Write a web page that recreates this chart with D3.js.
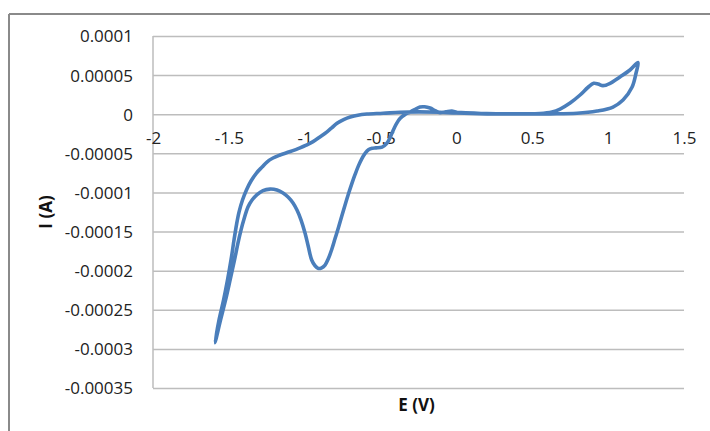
<!DOCTYPE html>
<html>
<head>
<meta charset="utf-8">
<script src="https://cdn.jsdelivr.net/npm/d3@7"></script>
<style>
  html, body { margin: 0; padding: 0; background: #ffffff; }
  svg { display: block; }
</style>
</head>
<body>
<script>
// ---- Data ----
const xTickValues = [-2, -1.5, -1, -0.5, 0, 0.5, 1, 1.5];
const xTickLabels = ["-2", "-1.5", "-1", "-0.5", "0", "0.5", "1", "1.5"];
const yTickValues = [0.0001, 0.00005, 0, -0.00005, -0.0001, -0.00015, -0.0002, -0.00025, -0.0003, -0.00035];
const yTickLabels = ["0.0001", "0.00005", "0", "-0.00005", "-0.0001", "-0.00015", "-0.0002", "-0.00025", "-0.0003", "-0.00035"];
const xTitle = "E (V)";
const yTitle = "I (A)";

// Potential (V)
const potential = [
  0.0, -0.03, -0.07, -0.108, -0.14, -0.174, -0.21, -0.24, -0.275, -0.306,
  -0.34, -0.372, -0.395, -0.418, -0.44, -0.46, -0.49, -0.53, -0.555, -0.58,
  -0.602, -0.624, -0.646, -0.668, -0.69, -0.712, -0.734, -0.756, -0.778, -0.80,
  -0.822, -0.844, -0.866, -0.888, -0.91, -0.932, -0.954, -0.976, -0.998, -1.024,
  -1.051, -1.077, -1.11, -1.143, -1.183, -1.229, -1.275, -1.314, -1.347, -1.374,
  -1.40, -1.42, -1.44, -1.463, -1.492, -1.522, -1.555, -1.591,
  -1.565, -1.535, -1.509, -1.486, -1.466, -1.45, -1.433, -1.41, -1.384, -1.354,
  -1.318, -1.281, -1.249, -1.209, -1.163, -1.1, -1.031, -0.99, -0.945, -0.9,
  -0.853, -0.82, -0.787, -0.74, -0.70, -0.65, -0.59, -0.484, -0.372, -0.25,
  -0.108, 0.0, 0.2, 0.4, 0.55, 0.63, 0.683, 0.749, 0.815, 0.868,
  0.905, 0.935, 0.966, 1.013, 1.078, 1.144, 1.197,
  1.184, 1.158, 1.098, 1.032, 0.927, 0.795, 0.617, 0.4, 0.2, 0.0
];
// Current (A)
const current = [
  2.5e-6, 4.0e-6, 3.0e-6, 2.0e-6, 4.5e-6, 7.9e-6, 9.5e-6, 9.2e-6, 6.0e-6, 2.8e-6,
  -0.5e-6, -5.5e-6, -1.2e-5, -2.1e-5, -3.1e-5, -3.75e-5, -4.2e-5, -4.3e-5, -4.35e-5, -4.55e-5,
  -5.0e-5, -5.7e-5, -6.6e-5, -7.7e-5, -8.9e-5, -1.02e-4, -1.16e-4, -1.305e-4, -1.45e-4, -1.59e-4,
  -1.73e-4, -1.845e-4, -1.928e-4, -1.963e-4, -1.971e-4, -1.937e-4, -1.864e-4, -1.694e-4, -1.519e-4, -1.353e-4,
  -1.225e-4, -1.135e-4, -1.059e-4, -1.008e-4, -9.69e-5, -9.57e-5, -9.76e-5, -1.027e-4, -1.097e-4, -1.187e-4,
  -1.34e-4, -1.481e-4, -1.647e-4, -1.865e-4, -2.121e-4, -2.377e-4, -2.632e-4, -2.92e-4,
  -2.632e-4, -2.377e-4, -2.121e-4, -1.865e-4, -1.609e-4, -1.417e-4, -1.251e-4, -1.097e-4, -9.69e-5, -8.54e-5,
  -7.52e-5, -6.75e-5, -6.11e-5, -5.6e-5, -5.22e-5, -4.8e-5, -4.3e-5, -3.95e-5, -3.5e-5, -2.9e-5,
  -2.25e-5, -1.7e-5, -1.15e-5, -6.5e-6, -3.6e-6, -1.2e-6, 0.2e-6, 1.2e-6, 2.5e-6, 3.0e-6,
  2.5e-6, 1.5e-6, 0.5e-6, 0.5e-6, 0.8e-6, 2.8e-6, 6.6e-6, 1.43e-5, 2.46e-5, 3.45e-5,
  3.95e-5, 3.85e-5, 3.65e-5, 3.95e-5, 4.76e-5, 5.65e-5, 6.6e-5,
  5.27e-5, 3.48e-5, 1.82e-5, 9.2e-6, 4.1e-6, 1.2e-6, 0.5e-6, 0.5e-6, 0.8e-6, 2.5e-6
];

// ---- Layout ----
const W = 710, H = 431;
const plot = { left: 153, right: 684, top: 36, bottom: 388 };
const font = "'Open Sans', 'Liberation Sans', sans-serif";
const lineColor = "#4A7EBB";
const gridColor = "#bdbdbd";

const svg = d3.select("body").append("svg")
  .attr("width", W).attr("height", H);

svg.append("rect").attr("width", W).attr("height", H).attr("fill", "#fff");

// Outer chart frame (top and left edges visible)
svg.append("line").attr("x1", 9).attr("x2", W).attr("y1", 14).attr("y2", 14)
  .attr("stroke", "#8a8a8a").attr("stroke-width", 2);
svg.append("line").attr("x1", 9).attr("x2", 9).attr("y1", 14).attr("y2", H)
  .attr("stroke", "#8a8a8a").attr("stroke-width", 2);

const x = d3.scaleLinear().domain([-2, 1.5]).range([plot.left, plot.right]);
const y = d3.scaleLinear().domain([-0.00035, 0.0001]).range([plot.bottom, plot.top]);

// Horizontal gridlines + y labels
const yAxis = d3.axisLeft(y)
  .tickValues(yTickValues)
  .tickFormat((d, i) => yTickLabels[i])
  .tickSize(-(plot.right - plot.left))
  .tickPadding(20);
const gy = svg.append("g").attr("transform", `translate(${plot.left},0)`).call(yAxis);
gy.select(".domain").attr("stroke", gridColor).attr("stroke-width", 1.5)
  .attr("d", `M0,${plot.top}V${plot.bottom}`);
gy.selectAll(".tick line").attr("stroke", gridColor).attr("stroke-width", 1.5);
gy.selectAll(".tick text")
  .attr("font-family", font).attr("font-size", 17).attr("fill", "#222")
  .attr("dy", "0.35em");

// X axis along zero line (labels only)
const xAxis = d3.axisBottom(x)
  .tickValues(xTickValues)
  .tickFormat((d, i) => xTickLabels[i])
  .tickSize(0)
  .tickPadding(18);
const gx = svg.append("g").attr("transform", `translate(0,${y(0)})`).call(xAxis);
gx.select(".domain").remove();
gx.selectAll(".tick text")
  .attr("font-family", font).attr("font-size", 17).attr("fill", "#222");

// Axis titles
svg.append("text")
  .attr("x", (plot.left + plot.right) / 2 - 2).attr("y", 411)
  .attr("text-anchor", "middle")
  .attr("font-family", font).attr("font-size", 17).attr("font-weight", "bold").attr("fill", "#111")
  .text(xTitle);
svg.append("text")
  .attr("transform", `translate(52,${(plot.top + plot.bottom) / 2}) rotate(-90)`)
  .attr("text-anchor", "middle")
  .attr("font-family", font).attr("font-size", 17).attr("font-weight", "bold").attr("fill", "#111")
  .text(yTitle);

// CV curve
const pts = potential.map((v, i) => [v, current[i]]);
const line = d3.line()
  .x(d => x(d[0]))
  .y(d => y(d[1]))
  .curve(d3.curveCatmullRom.alpha(0.5));
svg.append("path")
  .datum(pts)
  .attr("d", line)
  .attr("fill", "none")
  .attr("stroke", lineColor)
  .attr("stroke-width", 3.6)
  .attr("stroke-linejoin", "round")
  .attr("stroke-linecap", "round");
</script>
</body>
</html>
